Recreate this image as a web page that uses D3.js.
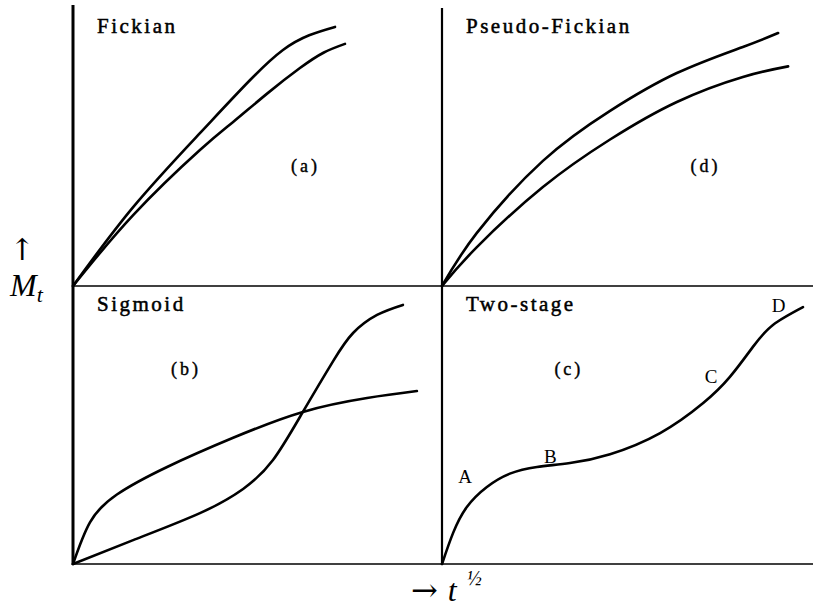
<!DOCTYPE html>
<html lang="en">
<head>
<meta charset="UTF-8">
<title>Sorption curves</title>
<script src="https://cdn.jsdelivr.net/npm/d3@7"></script>
<style>
    body { margin: 0; background: #fff; }
</style>
</head>
<body>
<script>
    // panel (a) Fickian
    var aUpperX = [0, 0.163, 0.344, 0.480, 0.569, 0.640, 0.710];
    var aUpperY = [0, 0.284, 0.550, 0.741, 0.849, 0.902, 0.932];
    var aLowerX = [0, 0.163, 0.344, 0.434, 0.526, 0.615, 0.680, 0.737];
    var aLowerY = [0, 0.255, 0.489, 0.590, 0.692, 0.784, 0.840, 0.871];
    // panel (d) Pseudo-Fickian
    var dUpperX = [0, 0.094, 0.272, 0.453, 0.633, 0.811, 0.906];
    var dUpperY = [0, 0.191, 0.450, 0.630, 0.766, 0.860, 0.910];
    var dLowerX = [0, 0.094, 0.272, 0.453, 0.633, 0.811, 0.933];
    var dLowerY = [0, 0.140, 0.356, 0.527, 0.662, 0.752, 0.790];
    // panel (b) Sigmoid
    var bConcX = [0, 0.046, 0.119, 0.255, 0.434, 0.623, 0.797, 0.932];
    var bConcY = [0, 0.150, 0.250, 0.349, 0.454, 0.547, 0.597, 0.622];
    var bSigX = [0, 0.163, 0.344, 0.461, 0.542, 0.623, 0.705, 0.759, 0.824, 0.894];
    var bSigY = [0, 0.086, 0.183, 0.270, 0.374, 0.547, 0.730, 0.831, 0.896, 0.932];
    // panel (c) Two-stage
    var cX = [0, 0.030, 0.067, 0.121, 0.183, 0.256, 0.345, 0.453, 0.588, 0.704, 0.776, 0.838, 0.892, 0.973];
    var cY = [0, 0.112, 0.205, 0.277, 0.325, 0.349, 0.363, 0.395, 0.471, 0.579, 0.673, 0.781, 0.860, 0.924];
    var cPoints = ["A", "B", "C", "D"];
    var cPointX = [0.062, 0.292, 0.725, 0.907];
    var cPointY = [0.29, 0.365, 0.65, 0.905];

    var w = 813, h = 608;
    var serif = "'Liberation Serif', 'Times New Roman', 'DejaVu Serif', serif";
    var svg = d3.select("body").append("svg")
        .attr("width", w)
        .attr("height", h)
        .attr("font-family", serif);

    var colX = [[73, 442], [442, 813]];
    var rowY = [[286, 8], [564, 286]];

    var line = d3.line().curve(d3.curveNatural);

    function zip(xs, ys, sx, sy) {
        return xs.map(function(x, i) { return [sx(x), sy(ys[i])]; });
    }

    var panels = [
        {col: 0, row: 0, title: "Fickian", tag: "(a)", tagX: 0.63, tagY: 0.41,
            curves: [[aUpperX, aUpperY], [aLowerX, aLowerY]]},
        {col: 1, row: 0, title: "Pseudo-Fickian", tag: "(d)", tagX: 0.71, tagY: 0.41,
            curves: [[dUpperX, dUpperY], [dLowerX, dLowerY]]},
        {col: 0, row: 1, title: "Sigmoid", tag: "(b)", tagX: 0.306, tagY: 0.68,
            curves: [[bConcX, bConcY], [bSigX, bSigY]]},
        {col: 1, row: 1, title: "Two-stage", tag: "(c)", tagX: 0.342, tagY: 0.68,
            curves: [[cX, cY]]}
    ];

    panels.forEach(function(p) {
        var x = d3.scaleLinear().domain([0, 1]).range(colX[p.col]);
        var y = d3.scaleLinear().domain([0, 1]).range(rowY[p.row]);
        p.curves.forEach(function(c) {
            svg.append("path")
                .attr("d", line(zip(c[0], c[1], x, y)))
                .attr("fill", "none")
                .attr("stroke", "#000")
                .attr("stroke-width", 2.6)
                .attr("stroke-linecap", "round");
        });
        svg.append("text")
            .attr("x", x(0) + 24)
            .attr("y", y(1) + 25)
            .attr("font-size", "21px")
            .attr("stroke", "#000")
            .attr("stroke-width", 0.5)
            .attr("letter-spacing", "2.5px")
            .text(p.title);
        svg.append("text")
            .attr("x", x(p.tagX))
            .attr("y", y(p.tagY))
            .attr("text-anchor", "middle")
            .attr("font-size", "18px")
            .attr("stroke", "#000")
            .attr("stroke-width", 0.4)
            .attr("letter-spacing", "3px")
            .text(p.tag);
        if (p.title === "Two-stage") {
            svg.selectAll(".pt")
                .data(cPoints)
                .enter()
                .append("text")
                .attr("x", function(d, i) { return x(cPointX[i]); })
                .attr("y", function(d, i) { return y(cPointY[i]); })
                .attr("text-anchor", "middle")
                .attr("font-size", "19px")
                .text(function(d) { return d; });
        }
    });

    // frame lines
    svg.append("line").attr("x1", 73).attr("x2", 73).attr("y1", 5).attr("y2", 565)
        .attr("stroke", "#000").attr("stroke-width", 3);
    svg.append("line").attr("x1", 442).attr("x2", 442).attr("y1", 8).attr("y2", 565)
        .attr("stroke", "#000").attr("stroke-width", 2.2);
    [286, 564].forEach(function(yy) {
        svg.append("line").attr("x1", 73).attr("x2", 813).attr("y1", yy).attr("y2", yy)
            .attr("stroke", "#000").attr("stroke-width", 1.6);
    });

    // axis labels
    svg.append("text").attr("x", 22).attr("y", 260).attr("text-anchor", "middle")
        .attr("font-family", "'DejaVu Serif', serif")
        .attr("font-size", "30px").text("\u2191");
    var mt = svg.append("text").attr("x", 10).attr("y", 296)
        .attr("font-size", "32px").attr("font-style", "italic");
    mt.append("tspan").text("M");
    mt.append("tspan").attr("font-size", "22px").attr("dy", 6).text("t");

    var tx = svg.append("text").attr("x", 411).attr("y", 601)
        .attr("font-size", "32px");
    tx.append("tspan").attr("font-family", "'DejaVu Serif', serif").text("\u2192");
    tx.append("tspan").attr("dx", 10).attr("font-style", "italic").text("t");
    tx.append("tspan").attr("dx", 10).attr("dy", -16).attr("font-size", "20px")
        .attr("font-style", "italic").text("\u00bd");
</script>
</body>
</html>
